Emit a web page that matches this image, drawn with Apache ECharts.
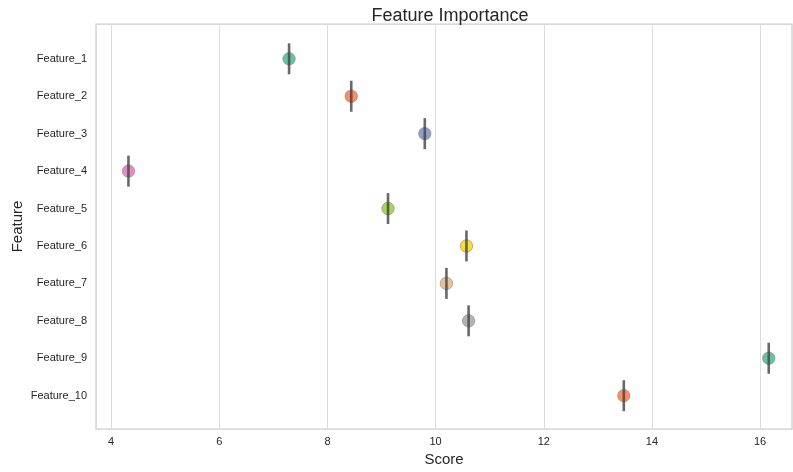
<!DOCTYPE html>
<html>
<head>
<meta charset="utf-8">
<title>Feature Importance</title>
<script src="https://cdn.jsdelivr.net/npm/echarts@6/dist/echarts.min.js"></script>
<style>
  html, body { margin: 0; padding: 0; background: #fff; }
  #chart { width: 793px; height: 472px; }
</style>
</head>
<body>
<div id="chart"></div>
<script>
// data
var features = ['Feature_1', 'Feature_2', 'Feature_3', 'Feature_4', 'Feature_5',
                'Feature_6', 'Feature_7', 'Feature_8', 'Feature_9', 'Feature_10'];
var scores = [7.29, 8.44, 9.80, 4.32, 9.12, 10.57, 10.20, 10.61, 16.16, 13.48];
var xTicks = [4, 6, 8, 10, 12, 14, 16];
// Set2 palette, cycles after 8
var palette = ['#66c2a5', '#fc8d62', '#8da0cb', '#e78ac3', '#a6d854', '#ffd92f', '#e5c494', '#b3b3b3'];

var chart = echarts.init(document.getElementById('chart'));

var yIdx = features.map(function (f, i) { return i; });

var pointData = scores.map(function (s, i) {
  return {
    value: [s, i],
    itemStyle: { color: palette[i % palette.length] }
  };
});
var barData = scores.map(function (s, i) { return [s, i]; });

var font = '"Liberation Sans", Arial, sans-serif';

chart.setOption({
  animation: false,
  backgroundColor: '#fff',
  title: {
    text: 'Feature Importance',
    left: 445,
    top: 2,
    textAlign: 'center',
    textStyle: { fontFamily: font, fontSize: 18, fontWeight: 'normal', color: '#262626' }
  },
  grid: {
    left: 96, right: 1, top: 24, bottom: 43,
    outerBoundsMode: 'none',
    containLabel: false,
    show: true,
    borderColor: '#cccccc',
    borderWidth: 1.25,
    backgroundColor: '#fff'
  },
  xAxis: {
    type: 'value',
    min: 3.72,
    max: 16.59,
    splitNumber: 6,
    name: 'Score',
    nameLocation: 'middle',
    nameGap: 23,
    nameMoveOverlap: false,
    nameTextStyle: { fontFamily: font, fontSize: 15, color: '#262626' },
    axisLine: { show: false },
    axisTick: { show: false },
    axisLabel: {
      customValues: xTicks,
      margin: 7,
      fontFamily: font, fontSize: 11, color: '#262626'
    },
    splitLine: { show: true, customValues: xTicks, lineStyle: { color: '#dcdcdc', width: 1.1 } }
  },
  yAxis: {
    type: 'value',
    inverse: true,
    min: -0.93,
    max: 9.89,
    name: 'Feature',
    nameLocation: 'middle',
    nameGap: 71,
    nameMoveOverlap: false,
    nameTextStyle: { fontFamily: font, fontSize: 15, color: '#262626' },
    axisLine: { show: false },
    axisTick: { show: false },
    splitLine: { show: false },
    axisLabel: {
      customValues: yIdx,
      margin: 9,
      fontFamily: font, fontSize: 11, color: '#262626',
      formatter: function (v) { return features[Math.round(v)]; }
    }
  },
  series: [
    {
      type: 'scatter',
      data: pointData,
      symbol: 'circle',
      symbolSize: 12.5,
      z: 2,
      itemStyle: { opacity: 1, borderColor: '#8a8a8a', borderWidth: 0.6 }
    },
    {
      type: 'scatter',
      data: barData,
      symbol: 'rect',
      symbolSize: [2.6, 31],
      z: 3,
      itemStyle: { color: '#424242' }
    }
  ]
});
</script>
</body>
</html>
